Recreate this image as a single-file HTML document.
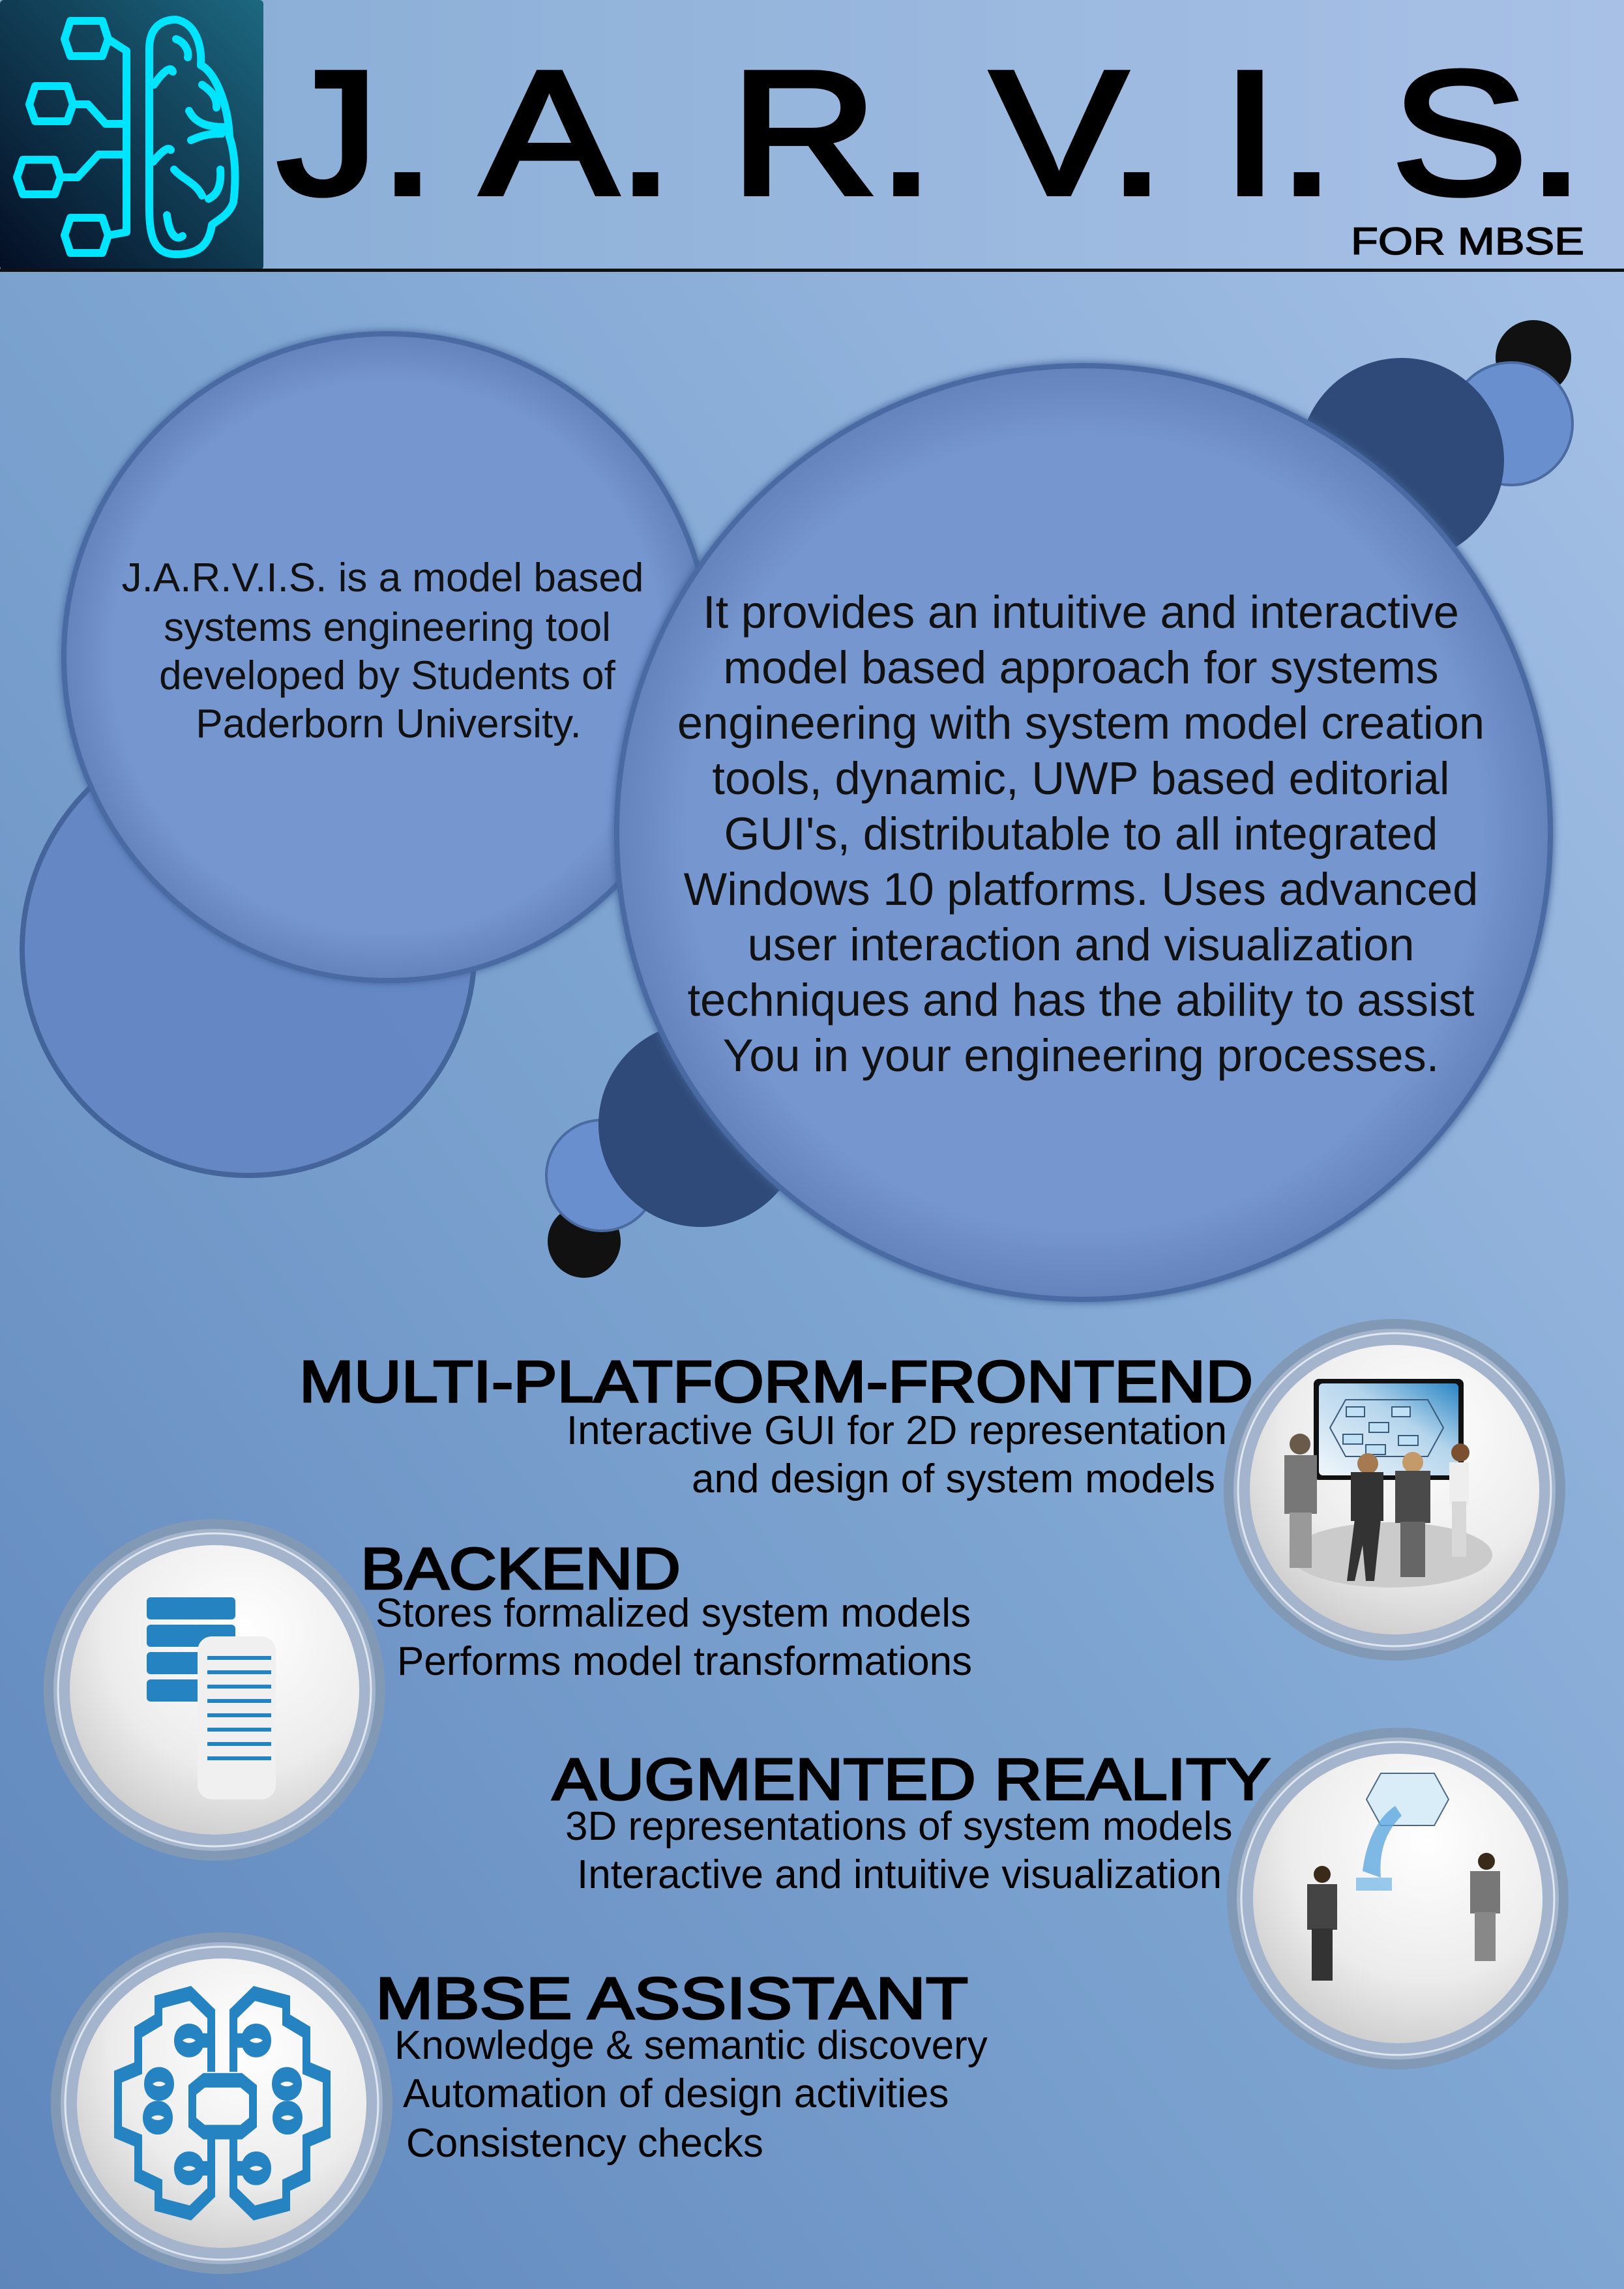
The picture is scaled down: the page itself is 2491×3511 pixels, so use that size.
<!DOCTYPE html>
<html><head><meta charset="utf-8"><style>html,body{margin:0;padding:0}svg{display:block}</style></head>
<body>
<svg width="2491" height="3511" viewBox="0 0 2491 3511" xmlns="http://www.w3.org/2000/svg" font-family="'Liberation Sans', sans-serif">
<defs>
<linearGradient id="bg" x1="0" y1="1" x2="1" y2="0">
<stop offset="0" stop-color="#5f86bb"/><stop offset="0.5" stop-color="#7fa6d2"/><stop offset="1" stop-color="#a9c3e8"/></linearGradient>
<linearGradient id="hd" x1="0" y1="0" x2="1" y2="0"><stop offset="0" stop-color="#86acd4"/><stop offset="1" stop-color="#a8c0e6"/></linearGradient>
<linearGradient id="logo" x1="0" y1="1" x2="1" y2="0"><stop offset="0" stop-color="#040e24"/><stop offset="1" stop-color="#1c6880"/></linearGradient>
<radialGradient id="wh" cx="0.6" cy="0.3" r="0.8"><stop offset="0" stop-color="#ffffff"/><stop offset="0.6" stop-color="#ececec"/><stop offset="1" stop-color="#c6c6c6"/></radialGradient>
<radialGradient id="bc" cx="0.5" cy="0.5" r="0.5"><stop offset="0.85" stop-color="#7696d0"/><stop offset="1" stop-color="#6482bb"/></radialGradient>
<linearGradient id="scr" x1="0" y1="1" x2="1" y2="0"><stop offset="0" stop-color="#f0f6fb"/><stop offset="0.6" stop-color="#b5d5ec"/><stop offset="1" stop-color="#2a85c5"/></linearGradient>
<filter id="gl" x="-10%" y="-10%" width="120%" height="120%"><feGaussianBlur stdDeviation="6"/></filter>
</defs>
<rect width="2491" height="3511" fill="url(#bg)"/>
<rect width="2491" height="414" fill="url(#hd)"/>
<rect x="0" y="0" width="404" height="414" fill="url(#logo)" rx="6"/>
<rect x="0" y="412" width="2491" height="5" fill="#111"/>
<!-- logo -->
<g fill="none" stroke="#00e5ff" stroke-width="12" stroke-linejoin="round" stroke-linecap="round">
<polygon points="108,32 157,32 166,60 157,86 108,86 99,60"/>
<polygon points="54,132 103,132 112,160 103,186 54,186 45,160"/>
<polygon points="35,245 84,245 93,272 84,298 35,298 26,272"/>
<polygon points="108,334 157,334 166,361 157,388 108,388 99,361"/>
<polyline points="166,60 194,78 194,356 166,361"/>
<polyline points="112,160 135,160 162,190 194,190"/>
<polyline points="93,272 119,272 151,237 194,237"/>
<path d="M229,75 C229,40 250,30 270,30 C300,35 310,70 308,100 C330,110 350,160 352,210 C362,240 362,280 358,310 C352,330 330,340 325,345 C320,380 300,390 270,390 C235,390 229,360 229,320 Z"/>
<path d="M270,60 C285,65 290,80 288,88 M236,130 C250,110 262,100 265,110 M310,130 C325,140 333,150 332,165 M290,170 C300,190 320,195 345,195 M293,215 C305,210 315,205 340,205 M235,248 C250,230 258,225 262,230 M267,260 C280,275 300,280 310,300 M338,260 C340,290 330,300 320,305 M256,330 C260,360 270,370 280,362"/>
</g>
<text x="425" y="297" font-size="270" stroke="#000" stroke-width="8" textLength="2005" lengthAdjust="spacingAndGlyphs">J. A. R. V. I. S.</text>
<text x="2072" y="390" font-size="58" stroke="#000" stroke-width="1.5" textLength="358" lengthAdjust="spacingAndGlyphs">FOR MBSE</text>

<!-- bubbles -->
<circle cx="2352" cy="549" r="58" fill="#111"/>
<circle cx="2318" cy="650" r="94" fill="#6a8fcf" stroke="#4a6aa0" stroke-width="4"/>
<circle cx="2150" cy="706" r="157" fill="#2f4a78"/>
<circle cx="896" cy="1904" r="56" fill="#111"/>
<circle cx="923" cy="1803" r="85" fill="#6a8fcf" stroke="#4a6aa0" stroke-width="4"/>
<circle cx="1075" cy="1725" r="157" fill="#2f4a78"/>
<circle cx="381" cy="1456" r="347" fill="#6486c4" stroke="#3f5f96" stroke-width="8" opacity="0.9"/>
<circle cx="594" cy="1008" r="500" fill="#42629a" filter="url(#gl)"/>
<circle cx="594" cy="1008" r="496" fill="url(#bc)" stroke="#4a6aa3" stroke-width="8"/>
<circle cx="1662" cy="1277" r="721" fill="#42629a" filter="url(#gl)"/>
<circle cx="1662" cy="1277" r="716" fill="url(#bc)" stroke="#4a6aa3" stroke-width="8"/>

<g font-size="62" text-anchor="middle" fill="#111">
<text x="587" y="907">J.A.R.V.I.S. is a model based</text>
<text x="594" y="983">systems engineering tool</text>
<text x="594" y="1057">developed by Students of</text>
<text x="596" y="1131">Paderborn University.</text>
</g>
<g font-size="70.5" text-anchor="middle" fill="#111">
<text x="1658" y="963">It provides an intuitive and interactive</text>
<text x="1658" y="1048">model based approach for systems</text>
<text x="1658" y="1133">engineering with system model creation</text>
<text x="1658" y="1218">tools, dynamic, UWP based editorial</text>
<text x="1658" y="1303">GUI's, distributable to all integrated</text>
<text x="1658" y="1388">Windows 10 platforms. Uses advanced</text>
<text x="1658" y="1473">user interaction and visualization</text>
<text x="1658" y="1558">techniques and has the ability to assist</text>
<text x="1658" y="1643">You in your engineering processes.</text>
</g>

<!-- icon circles -->
<circle cx="2139" cy="2285" r="262" fill="#8199b5"/>
<circle cx="2139" cy="2285" r="247" fill="#a3b4cc"/>
<circle cx="2139" cy="2285" r="240" fill="none" stroke="#dfe6ef" stroke-width="3"/>
<circle cx="2139" cy="2285" r="222" fill="url(#wh)"/>
<circle cx="2144" cy="2912" r="262" fill="#8199b5"/>
<circle cx="2144" cy="2912" r="247" fill="#a3b4cc"/>
<circle cx="2144" cy="2912" r="240" fill="none" stroke="#dfe6ef" stroke-width="3"/>
<circle cx="2144" cy="2912" r="222" fill="url(#wh)"/>
<circle cx="329" cy="2592" r="262" fill="#8199b5"/>
<circle cx="329" cy="2592" r="247" fill="#a3b4cc"/>
<circle cx="329" cy="2592" r="240" fill="none" stroke="#dfe6ef" stroke-width="3"/>
<circle cx="329" cy="2592" r="222" fill="url(#wh)"/>
<circle cx="340" cy="3226" r="262" fill="#8199b5"/>
<circle cx="340" cy="3226" r="247" fill="#a3b4cc"/>
<circle cx="340" cy="3226" r="240" fill="none" stroke="#dfe6ef" stroke-width="3"/>
<circle cx="340" cy="3226" r="222" fill="url(#wh)"/>

<!-- frontend illustration -->
<ellipse cx="2134" cy="2385" rx="155" ry="50" fill="#cbcbcb"/>
<rect x="2015" y="2115" width="230" height="155" rx="8" fill="#111"/>
<rect x="2023" y="2122" width="214" height="141" rx="6" fill="url(#scr)"/>
<polygon points="2040,2190 2064,2147 2190,2147 2214,2190 2190,2234 2064,2234" fill="none" stroke="#3a5a7a" stroke-width="2"/>
<g fill="#bfe0f5" stroke="#3a5a7a" stroke-width="2">
<rect x="2065" y="2158" width="28" height="15"/><rect x="2135" y="2158" width="28" height="15"/>
<rect x="2100" y="2182" width="30" height="15"/><rect x="2060" y="2200" width="30" height="15"/>
<rect x="2145" y="2202" width="30" height="15"/><rect x="2095" y="2216" width="30" height="15"/></g>
<g fill="#777"><circle cx="1994" cy="2215" r="16" fill="#6a5a4a"/><rect x="1970" y="2232" width="50" height="90"/><rect x="1978" y="2320" width="34" height="85" fill="#999"/></g>
<g fill="#333"><circle cx="2098" cy="2245" r="16" fill="#a57a50"/><rect x="2072" y="2258" width="50" height="75"/><polygon points="2078,2330 2118,2330 2108,2425 2095,2425 2090,2370 2078,2425 2066,2425"/></g>
<g fill="#4a4a4a"><circle cx="2167" cy="2243" r="16" fill="#c59a6a"/><rect x="2140" y="2256" width="54" height="80"/><rect x="2148" y="2334" width="38" height="85" fill="#666"/></g>
<g fill="#eee"><circle cx="2240" cy="2228" r="14" fill="#7a5030"/><rect x="2223" y="2243" width="30" height="65"/><rect x="2227" y="2303" width="22" height="85" fill="#d8d8d8"/></g>

<!-- AR illustration -->
<polygon points="2118,2720 2200,2720 2222,2760 2200,2800 2118,2800 2096,2760" fill="#d6ecf9" stroke="#3a5a7a" stroke-width="2" opacity="0.9"/>
<path d="M2090,2870 C2095,2830 2110,2790 2140,2770 L2150,2785 C2125,2810 2115,2840 2118,2880 Z" fill="#5fa8e0" opacity="0.8"/>
<rect x="2080" y="2880" width="55" height="20" fill="#7fbde9" opacity="0.8"/>
<g fill="#444"><circle cx="2028" cy="2875" r="13" fill="#3a2a1a"/><rect x="2005" y="2890" width="46" height="70"/><rect x="2012" y="2958" width="32" height="80" fill="#333"/></g>
<g fill="#777"><circle cx="2280" cy="2855" r="13" fill="#3a2a1a"/><rect x="2255" y="2870" width="46" height="65"/><rect x="2262" y="2933" width="32" height="75" fill="#888"/></g>

<!-- backend icon -->
<g fill="#2583c2">
<rect x="225" y="2450" width="136" height="34" rx="6"/><rect x="225" y="2492" width="136" height="34" rx="6"/>
<rect x="225" y="2534" width="136" height="34" rx="6"/><rect x="225" y="2576" width="136" height="34" rx="6"/></g>
<rect x="303" y="2510" width="120" height="250" rx="22" fill="#f0f0f0"/>
<g fill="#2583c2"><rect x="318" y="2540" width="98" height="6"/><rect x="318" y="2562" width="98" height="6"/><rect x="318" y="2584" width="98" height="6"/><rect x="318" y="2606" width="98" height="6"/><rect x="318" y="2628" width="98" height="6"/><rect x="318" y="2650" width="98" height="6"/><rect x="318" y="2672" width="98" height="6"/><rect x="318" y="2694" width="98" height="6"/></g>

<!-- assistant icon -->
<g transform="translate(0,3226) scale(1,1.85) translate(0,-3154)">
<g fill="none" stroke="#2583c2" stroke-width="12">
<polyline points="324,3128 324,3080 292,3063 243,3070 243,3085 212,3095 212,3125 181,3132 181,3178 212,3185 212,3214 243,3222 243,3238 292,3245 324,3228 324,3180"/>
<polyline points="358,3128 358,3080 390,3063 439,3070 439,3085 470,3095 470,3125 501,3132 501,3178 470,3185 470,3214 439,3222 439,3238 390,3245 358,3228 358,3180"/>
<polygon points="313,3135 370,3135 388,3143 388,3170 370,3178 313,3178 295,3170 295,3143"/>
<ellipse cx="290" cy="3102" rx="17" ry="8"/><ellipse cx="393" cy="3102" rx="17" ry="8"/>
<ellipse cx="244" cy="3138" rx="17" ry="8"/><ellipse cx="440" cy="3138" rx="17" ry="8"/>
<ellipse cx="242" cy="3166" rx="17" ry="8"/><ellipse cx="441" cy="3166" rx="17" ry="8"/>
<ellipse cx="290" cy="3208" rx="17" ry="8"/><ellipse cx="393" cy="3208" rx="17" ry="8"/>
<path d="M307,3102 H324 M376,3102 H358 M307,3208 H324 M376,3208 H358"/>
</g></g>

<!-- headings -->
<g fill="#000" stroke="#000" stroke-width="3" font-size="90">
<text x="459" y="2150" textLength="1463" lengthAdjust="spacingAndGlyphs">MULTI-PLATFORM-FRONTEND</text>
<text x="553" y="2437" textLength="491" lengthAdjust="spacingAndGlyphs">BACKEND</text>
<text x="847" y="2760" textLength="1102" lengthAdjust="spacingAndGlyphs">AUGMENTED REALITY</text>
<text x="576" y="3096" textLength="909" lengthAdjust="spacingAndGlyphs">MBSE ASSISTANT</text>
</g>
<g font-size="62" fill="#000">
<text x="1882" y="2215" text-anchor="end">Interactive GUI for 2D representation</text>
<text x="1864" y="2289" text-anchor="end">and design of system models</text>
<text x="576" y="2495">Stores formalized system models</text>
<text x="609" y="2569">Performs model transformations</text>
<text x="867" y="2822">3D representations of system models</text>
<text x="885" y="2896">Interactive and intuitive visualization</text>
<text x="605" y="3158">Knowledge &amp; semantic discovery</text>
<text x="618" y="3232">Automation of design activities</text>
<text x="623" y="3308">Consistency checks</text>
</g>
</svg>
</body></html>
